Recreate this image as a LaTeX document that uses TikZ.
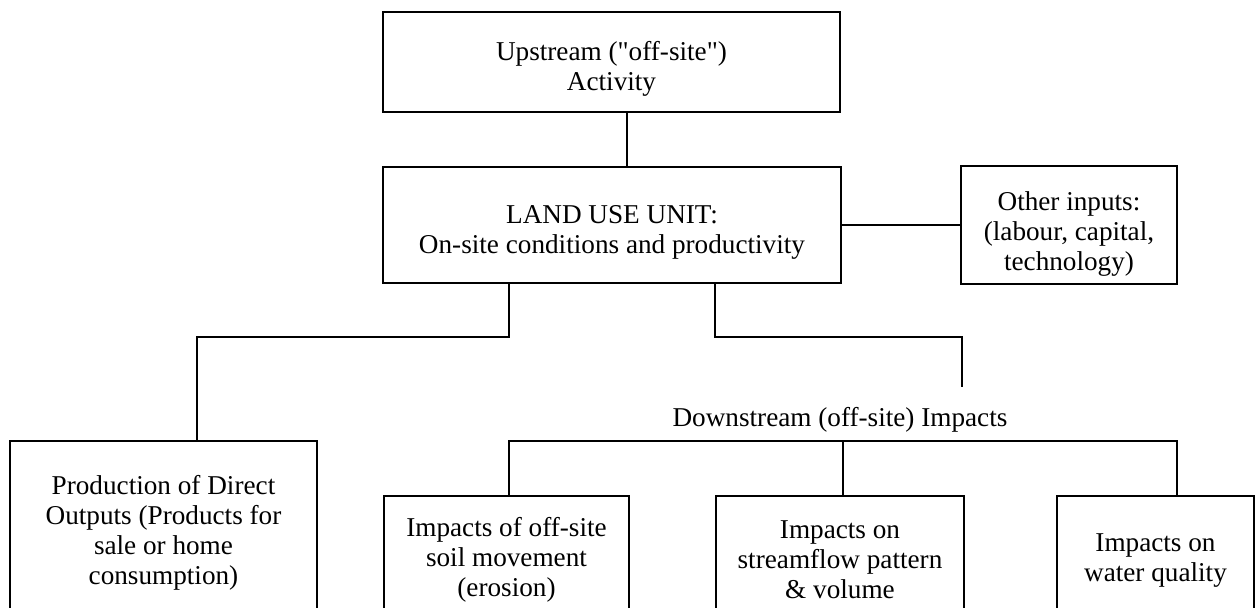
\documentclass[tikz,border=0pt]{standalone}
\usepackage{fontspec}
\setmainfont{Liberation Serif}[Ligatures=TeXOff]
% raise the first line's height so the text block sits lower in its box
\newcommand{\push}[1]{\rule{0pt}{\dimexpr 9.4pt+#1*2\relax}}
\begin{document}
\begin{tikzpicture}[x=0.5pt,y=-0.5pt,
  box/.style={draw, line width=1.3pt, inner sep=0pt, align=center,
    font=\fontsize{13.6}{15}\selectfont},
  caption/.style={inner sep=0pt, font=\fontsize{13.6}{15}\selectfont},
  wire/.style={line width=1.3pt}]
\useasboundingbox (0,0) rectangle (1255,607);
\clip (0,0) rectangle (1255,607);

% upper boxes
\node[box, minimum width=228.5pt, minimum height=50pt] (up) at (611.5,62)
  {\push{3.5pt}Upstream ("off-site")\\Activity};
\node[box, minimum width=229pt, minimum height=58pt] (mid) at (612,225)
  {\push{3.5pt}LAND USE UNIT:\\On-site conditions and productivity};
\node[box, minimum width=108pt, minimum height=59pt] (other) at (1069,225)
  {\push{4.5pt}Other inputs:\\(labour, capital,\\technology)};

% lower boxes (running off the bottom edge)
\node[box, minimum width=153.5pt, minimum height=92pt] (prod) at (163.5,533)
  {Production of Direct\\Outputs (Products for\\sale or home\\consumption)};
\node[box, minimum width=122.5pt, minimum height=64pt] (ero) at (506.5,560)
  {Impacts of off-site\\soil movement\\(erosion)};
\node[box, minimum width=124pt, minimum height=64pt] (stream) at (840,560)
  {Impacts on\\streamflow pattern\\\& volume};
\node[box, minimum width=98.5pt, minimum height=65pt] (water) at (1155.5,561)
  {Impacts on\\water quality};

\node[caption] (down) at (840,420) {Downstream (off-site) Impacts};

% connectors
\coordinate (jUp) at (627,0);
\draw[wire] (up.south -| jUp) -- (mid.north -| jUp);
\draw[wire] (mid.east) -- (other.west);

\coordinate (bl) at (509,337);
\coordinate (bl2) at (197,337);
\draw[wire] (mid.south -| bl) -- (bl) -- (bl2) -- (prod.north -| bl2);

\coordinate (br) at (715,337);
\coordinate (br2) at (962,337);
\coordinate (brEnd) at (962,387);
\draw[wire] (mid.south -| br) -- (br) -- (br2) -- (brEnd);

\coordinate (dl) at (509,441);
\coordinate (dm) at (843,441);
\coordinate (dr) at (1177,441);
\draw[wire] (ero.north -| dl) -- (dl) -- (dr) -- (water.north -| dr);
\draw[wire] (dm) -- (stream.north -| dm);
\end{tikzpicture}
\end{document}
